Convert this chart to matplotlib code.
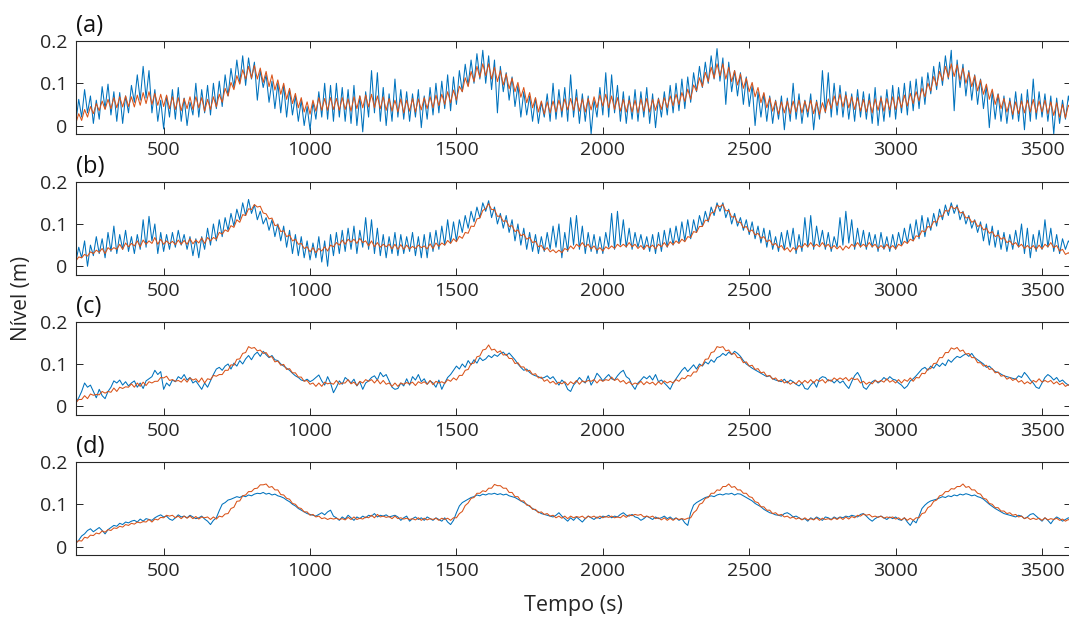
import numpy as np
import matplotlib
matplotlib.use("Agg")
import matplotlib.pyplot as plt

plt.rcParams["font.family"] = ["Open Sans", "DejaVu Sans"]

BLUE = "#0072BD"
ORANGE = "#D95319"
INK = "#262626"

# sample times (s), one value every 10 s from 200 to 3600
tempo = np.arange(200, 3601, 10)

a_blue = [
    8, 62, 20, 85, 30, 70, 5, 60, 15, 92,
    40, 98, 25, 80, 10, 78, 5, 70, 30, 95,
    55, 120, 60, 140, 65, 130, 30, 85, 10, 60,
    -8, 70, 20, 85, 15, 90, 10, 65, 0, 55,
    25, 100, 20, 85, 30, 95, 25, 100, 40, 105,
    45, 120, 70, 135, 90, 155, 100, 165, 95, 160,
    110, 150, 60, 130, 90, 120, 55, 105, 40, 100,
    30, 95, 20, 85, 25, 70, 10, 60, 0, 45,
    -10, 55, 15, 80, 20, 100, 15, 95, 10, 100,
    20, 90, 10, 85, 5, 95, 0, 70, -15, 80,
    20, 130, 30, 125, 10, 90, 0, 75, 10, 110,
    20, 85, 15, 80, 10, 75, 20, 85, -5, 70,
    15, 90, 25, 100, 30, 105, 40, 120, 35, 115,
    50, 130, 80, 145, 95, 155, 100, 170, 110, 178,
    100, 165, 85, 155, 30, 140, 80, 125, 60, 115,
    45, 95, 20, 80, 25, 70, 10, 65, 5, 55,
    20, 75, 10, 100, 15, 85, 20, 90, 10, 120,
    20, 85, 5, 75, 10, 70, -20, 60, 20, 90,
    25, 125, 20, 120, 30, 95, 10, 80, 5, 70,
    15, 85, 10, 80, 20, 90, 5, 75, -5, 65,
    20, 80, 25, 95, 30, 100, 35, 110, 40, 115,
    55, 125, 80, 140, 90, 150, 100, 165, 110, 182,
    105, 160, 50, 150, 80, 130, 70, 125, 50, 115,
    45, 95, 0, 80, 20, 75, 10, 70, 5, 60,
    15, 70, -10, 65, 10, 100, 15, 75, 5, 60,
    20, 75, -10, 60, 15, 130, 30, 125, 20, 100,
    25, 95, 20, 80, 15, 75, 10, 85, 20, 80,
    15, 75, 5, 90, 0, 70, 10, 85, 20, 95,
    15, 90, 30, 100, 25, 105, 35, 110, 40, 115,
    50, 125, 75, 140, 85, 150, 95, 165, 110, 178,
    35, 155, 90, 145, 70, 130, 60, 120, 50, 110,
    40, 95, -5, 80, 15, 75, 10, 70, 5, 65,
    15, 80, 10, 75, -10, 85, 10, 110, 15, 80,
    20, 75, 10, 70, -20, 65, 5, 60, 15, 70,
    30,
]
a_orange = [
    5, 28, 12, 38, 20, 45, 28, 52, 35, 58,
    38, 62, 40, 66, 42, 68, 44, 70, 45, 68,
    44, 72, 48, 78, 52, 80, 50, 76, 48, 74,
    45, 72, 40, 68, 38, 66, 35, 64, 40, 68,
    38, 68, 42, 66, 34, 62, 38, 68, 44, 74,
    55, 88, 70, 102, 85, 118, 98, 132, 110, 140,
    112, 142, 110, 136, 102, 128, 92, 120, 84, 108,
    74, 100, 62, 88, 52, 76, 42, 66, 32, 56,
    27, 60, 34, 66, 36, 64, 36, 66, 38, 64,
    36, 66, 38, 63, 34, 68, 40, 70, 42, 72,
    44, 74, 42, 70, 40, 68, 36, 64, 34, 60,
    32, 63, 30, 60, 34, 64, 32, 63, 37, 66,
    40, 68, 42, 72, 47, 74, 50, 80, 54, 84,
    60, 93, 80, 113, 92, 128, 104, 140, 114, 146,
    118, 146, 110, 138, 104, 130, 96, 122, 87, 112,
    80, 102, 67, 90, 54, 78, 42, 66, 32, 58,
    27, 56, 30, 58, 32, 60, 34, 63, 37, 64,
    36, 66, 34, 63, 32, 64, 37, 68, 42, 72,
    46, 74, 42, 70, 38, 66, 34, 62, 32, 60,
    32, 60, 30, 63, 34, 64, 32, 62, 36, 63,
    38, 66, 42, 70, 47, 74, 50, 78, 57, 86,
    62, 96, 82, 113, 92, 126, 104, 138, 112, 146,
    117, 146, 110, 138, 104, 130, 96, 122, 88, 112,
    80, 102, 68, 90, 54, 78, 42, 66, 34, 58,
    27, 56, 30, 58, 28, 58, 32, 60, 30, 58,
    32, 60, 28, 56, 26, 54, 32, 63, 40, 70,
    47, 74, 44, 72, 42, 68, 38, 66, 34, 62,
    32, 60, 30, 63, 36, 66, 34, 64, 37, 68,
    38, 68, 42, 72, 46, 76, 52, 80, 58, 88,
    68, 100, 82, 116, 94, 128, 106, 140, 114, 146,
    116, 144, 108, 136, 100, 126, 92, 118, 82, 108,
    74, 98, 62, 86, 50, 74, 40, 64, 32, 58,
    26, 56, 28, 58, 30, 60, 32, 62, 30, 58,
    32, 60, 28, 56, 24, 54, 20, 50, 18, 48,
    38,
]

b_blue = [
    10, 45, 20, 60, 0, 50, 25, 70, 30, 65,
    20, 80, 35, 95, 30, 75, 40, 85, 35, 70,
    30, 75, 40, 110, 45, 118, 60, 100, 30, 80,
    35, 75, 40, 80, 45, 85, 50, 75, 40, 70,
    25, 65, 20, 70, 40, 90, 50, 100, 60, 110,
    70, 115, 85, 125, 95, 135, 110, 150, 120, 158,
    125, 145, 110, 130, 100, 115, 85, 110, 70, 100,
    60, 95, 45, 85, 30, 75, 25, 70, 20, 60,
    15, 55, 20, 70, 10, 60, 0, 75, 25, 80,
    30, 85, 35, 90, 40, 95, 30, 85, 45, 115,
    40, 110, 30, 90, 25, 75, 20, 70, 30, 80,
    25, 75, 30, 70, 35, 80, 25, 70, 20, 75,
    20, 80, 35, 85, 40, 95, 50, 110, 55, 105,
    60, 110, 80, 120, 90, 130, 105, 140, 115, 150,
    130, 155, 115, 140, 100, 125, 90, 120, 80, 110,
    60, 100, 50, 90, 40, 80, 35, 75, 30, 70,
    35, 80, 40, 95, 45, 100, 20, 80, 35, 115,
    50, 120, 40, 95, 30, 80, 35, 75, 30, 70,
    30, 80, 45, 125, 40, 130, 50, 110, 45, 90,
    40, 80, 45, 75, 40, 70, 35, 75, 30, 80,
    35, 85, 45, 90, 50, 95, 55, 105, 60, 110,
    65, 110, 80, 120, 95, 130, 105, 140, 120, 150,
    130, 150, 115, 135, 100, 125, 95, 115, 85, 110,
    75, 105, 65, 95, 55, 90, 45, 85, 40, 70,
    35, 80, 40, 85, 45, 90, 30, 75, 35, 115,
    45, 120, 40, 95, 50, 85, 40, 80, 35, 70,
    45, 115, 50, 130, 55, 110, 40, 90, 45, 85,
    40, 80, 45, 75, 35, 80, 40, 70, 35, 75,
    40, 80, 50, 90, 55, 100, 60, 110, 65, 120,
    70, 115, 85, 125, 95, 135, 110, 145, 120, 150,
    125, 145, 110, 130, 100, 120, 90, 110, 80, 105,
    60, 100, 50, 95, 45, 85, 40, 80, 35, 75,
    40, 85, 45, 100, 30, 90, 20, 75, 35, 85,
    40, 110, 45, 90, 35, 75, 30, 65, 40, 60,
    50,
]
b_orange = [
    12, 22, 20, 28, 24, 34, 30, 38, 33, 42,
    30, 44, 38, 44, 40, 52, 40, 55, 46, 54,
    48, 60, 46, 62, 52, 60, 54, 68, 52, 64,
    52, 60, 53, 59, 51, 62, 52, 61, 52, 65,
    53, 62, 55, 67, 54, 68, 60, 68, 64, 80,
    76, 86, 82, 96, 92, 110, 104, 122, 120, 136,
    134, 146, 140, 142, 126, 124, 112, 114, 96, 98,
    82, 84, 70, 74, 60, 64, 52, 54, 42, 46,
    34, 44, 32, 42, 36, 46, 36, 50, 46, 56,
    50, 62, 52, 64, 57, 64, 54, 66, 56, 60,
    48, 60, 46, 56, 45, 52, 46, 52, 41, 52,
    40, 51, 40, 50, 41, 47, 42, 50, 44, 48,
    41, 53, 42, 55, 47, 55, 50, 61, 54, 65,
    58, 71, 66, 80, 78, 95, 94, 112, 114, 132,
    136, 148, 134, 134, 118, 119, 106, 108, 94, 96,
    82, 86, 72, 76, 64, 68, 56, 59, 46, 49,
    38, 44, 34, 39, 32, 38, 32, 42, 38, 48,
    41, 52, 46, 56, 46, 52, 41, 48, 38, 44,
    36, 46, 41, 48, 42, 52, 46, 52, 46, 56,
    46, 52, 42, 49, 40, 50, 44, 50, 41, 52,
    46, 56, 46, 58, 51, 60, 54, 64, 58, 70,
    68, 82, 80, 94, 94, 109, 108, 126, 128, 144,
    141, 146, 131, 132, 116, 118, 104, 104, 91, 94,
    82, 86, 74, 78, 66, 70, 58, 62, 50, 54,
    44, 49, 38, 44, 34, 44, 38, 49, 44, 54,
    46, 56, 46, 52, 46, 56, 46, 52, 42, 49,
    41, 48, 38, 48, 42, 52, 46, 56, 46, 52,
    46, 56, 46, 52, 42, 49, 42, 52, 42, 49,
    41, 52, 48, 59, 54, 64, 60, 72, 70, 84,
    81, 94, 92, 106, 104, 119, 118, 132, 130, 142,
    136, 140, 126, 128, 114, 116, 104, 108, 94, 98,
    86, 90, 78, 82, 70, 74, 64, 68, 56, 60,
    51, 56, 46, 52, 42, 49, 42, 49, 40, 50,
    41, 52, 46, 56, 44, 49, 36, 40, 28, 32,
    25,
]

c_blue = [
    8, 20, 35, 55, 45, 50, 35, 20, 40, 25,
    18, 35, 45, 60, 55, 62, 50, 58, 48, 55,
    60, 45, 55, 42, 60, 65, 70, 85, 75, 82,
    40, 55, 48, 62, 58, 70, 65, 75, 62, 68,
    55, 60, 50, 40, 55, 45, 60, 75, 88, 92,
    85, 95, 100, 88, 102, 95, 108, 100, 112, 120,
    110, 122, 128, 118, 130, 122, 115, 120, 110, 108,
    100, 95, 90, 85, 78, 72, 68, 62, 60, 64,
    58, 62, 68, 74, 60, 50, 70, 55, 32, 45,
    60, 52, 68, 62, 55, 64, 48, 58, 40, 55,
    60, 68, 72, 62, 80, 70, 75, 60, 45, 40,
    42, 55, 48, 65, 50, 70, 62, 75, 58, 65,
    52, 60, 55, 45, 62, 40, 55, 68, 75, 85,
    95, 88, 100, 92, 108, 98, 110, 102, 115, 108,
    112, 120, 115, 122, 118, 125, 128, 120, 126, 118,
    110, 100, 92, 85, 88, 80, 75, 72, 70, 66,
    68, 72, 65, 70, 60, 50, 62, 55, 40, 35,
    50, 58, 68, 60, 55, 72, 50, 62, 78, 70,
    60, 68, 75, 65, 62, 72, 80, 85, 70, 65,
    50, 40, 55, 62, 70, 65, 72, 62, 75, 58,
    62, 55, 48, 40, 55, 65, 75, 85, 92, 82,
    90, 98, 88, 100, 95, 105, 100, 110, 104, 115,
    118, 125, 120, 128, 122, 130, 125, 118, 108, 100,
    95, 90, 86, 82, 78, 74, 70, 72, 65, 62,
    60, 58, 64, 55, 62, 58, 52, 48, 55, 42,
    40, 50, 58, 45, 65, 70, 68, 60, 62, 55,
    62, 55, 60, 50, 42, 58, 72, 80, 68, 45,
    40, 50, 58, 62, 55, 60, 68, 62, 70, 64,
    62, 55, 50, 42, 48, 60, 65, 72, 80, 88,
    92, 85, 95, 90, 100, 94, 102, 96, 110, 104,
    112, 118, 115, 120, 124, 118, 125, 115, 110, 105,
    100, 92, 95, 88, 82, 80, 76, 72, 70, 68,
    66, 64, 72, 68, 80, 72, 62, 55, 45, 42,
    55, 68, 75, 70, 62, 68, 58, 62, 55, 50,
    48,
]
c_orange = [
    8, 16, 16, 25, 18, 29, 26, 28, 27, 35,
    31, 35, 33, 43, 35, 45, 42, 46, 45, 53,
    45, 55, 47, 57, 49, 58, 55, 59, 59, 68,
    67, 71, 61, 63, 59, 61, 57, 65, 57, 67,
    62, 65, 57, 67, 55, 65, 63, 73, 71, 75,
    75, 85, 85, 98, 97, 111, 112, 125, 127, 141,
    137, 139, 131, 133, 125, 127, 117, 117, 105, 107,
    97, 99, 87, 89, 79, 79, 69, 69, 59, 61,
    52, 55, 47, 55, 47, 57, 53, 55, 52, 61,
    52, 55, 55, 63, 53, 57, 49, 59, 55, 63,
    59, 63, 55, 63, 53, 61, 52, 55, 47, 55,
    47, 55, 52, 56, 53, 57, 49, 58, 54, 58,
    52, 61, 51, 59, 55, 58, 54, 63, 59, 67,
    62, 73, 73, 85, 87, 101, 102, 117, 119, 133,
    135, 145, 133, 135, 127, 131, 121, 123, 113, 113,
    101, 103, 93, 93, 83, 85, 75, 77, 67, 69,
    59, 63, 55, 59, 52, 57, 53, 58, 50, 58,
    53, 61, 52, 60, 57, 61, 59, 63, 55, 63,
    59, 63, 61, 69, 61, 65, 57, 61, 53, 58,
    51, 55, 52, 59, 51, 58, 53, 57, 50, 58,
    52, 60, 55, 59, 55, 63, 59, 67, 65, 73,
    71, 81, 81, 95, 97, 111, 112, 127, 129, 141,
    139, 141, 131, 133, 123, 125, 115, 115, 103, 105,
    95, 97, 87, 89, 79, 81, 71, 73, 64, 67,
    59, 63, 55, 59, 52, 57, 53, 61, 54, 61,
    55, 63, 55, 63, 59, 63, 55, 63, 59, 67,
    62, 67, 63, 68, 60, 67, 63, 65, 55, 59,
    52, 57, 53, 61, 57, 61, 57, 65, 57, 61,
    55, 63, 55, 63, 59, 67, 59, 68, 67, 78,
    77, 88, 89, 101, 102, 115, 115, 127, 127, 138,
    135, 139, 130, 133, 123, 125, 115, 115, 103, 103,
    95, 97, 87, 89, 79, 81, 71, 73, 64, 68,
    61, 65, 57, 61, 53, 58, 53, 61, 57, 65,
    57, 61, 57, 61, 53, 58, 51, 55, 47, 51,
    46,
]

d_blue = [
    8, 15, 25, 30, 38, 42, 35, 40, 45, 38,
    30, 40, 45, 50, 48, 55, 52, 58, 56, 60,
    62, 58, 65, 60, 66, 64, 62, 68, 72, 75,
    70, 72, 65, 62, 68, 75, 70, 72, 68, 74,
    70, 66, 68, 72, 65, 60, 52, 62, 68, 85,
    100, 104, 110, 112, 115, 118, 116, 120, 118, 122,
    120, 124, 126, 125, 128, 124, 126, 122, 124, 120,
    118, 115, 110, 106, 100, 96, 90, 86, 82, 78,
    76, 74, 72, 76, 80, 75, 82, 86, 72, 68,
    62, 70, 65, 74, 68, 62, 70, 66, 72, 68,
    74, 72, 78, 70, 74, 72, 75, 70, 72, 74,
    70, 62, 68, 72, 60, 66, 70, 64, 68, 62,
    70, 66, 62, 68, 64, 60, 68, 58, 52, 62,
    80, 96, 104, 108, 112, 116, 118, 122, 120, 124,
    122, 125, 124, 126, 123, 125, 122, 124, 120, 118,
    116, 112, 108, 104, 100, 95, 90, 86, 82, 78,
    76, 74, 72, 70, 74, 80, 72, 66, 60, 68,
    62, 70, 64, 58, 66, 72, 68, 64, 70, 66,
    72, 70, 74, 68, 72, 70, 76, 80, 74, 72,
    76, 70, 68, 62, 66, 72, 68, 64, 70, 66,
    68, 72, 66, 70, 64, 68, 62, 66, 56, 50,
    80, 98, 104, 108, 112, 116, 118, 120, 118, 122,
    124, 122, 125, 124, 126, 122, 125, 124, 120, 116,
    112, 108, 102, 98, 94, 88, 84, 80, 78, 75,
    74, 72, 78, 80, 76, 70, 72, 68, 64, 66,
    60, 68, 64, 70, 66, 62, 70, 68, 64, 70,
    66, 70, 68, 72, 70, 74, 72, 70, 76, 78,
    72, 65, 60, 66, 70, 72, 68, 64, 70, 66,
    70, 64, 62, 68, 58, 50, 62, 56, 72, 90,
    98, 104, 108, 110, 112, 115, 118, 116, 120, 118,
    122, 120, 124, 122, 125, 123, 120, 122, 118, 116,
    112, 106, 100, 95, 90, 86, 82, 78, 76, 74,
    72, 70, 74, 72, 66, 70, 76, 78, 72, 66,
    60, 68, 62, 54, 64, 70, 66, 60, 64, 68,
    66,
]
d_orange = [
    8, 14, 13, 22, 20, 27, 26, 32, 30, 37,
    34, 40, 38, 44, 43, 48, 46, 52, 50, 55,
    53, 58, 56, 59, 58, 64, 58, 65, 63, 69,
    68, 74, 72, 74, 68, 72, 66, 72, 67, 72,
    66, 71, 65, 70, 68, 70, 64, 70, 65, 72,
    70, 77, 78, 90, 93, 107, 108, 120, 122, 130,
    130, 137, 138, 146, 146, 148, 140, 142, 134, 134,
    123, 122, 114, 112, 102, 100, 92, 90, 82, 82,
    74, 76, 70, 72, 66, 68, 64, 67, 65, 67,
    64, 66, 63, 69, 64, 70, 64, 67, 65, 70,
    68, 74, 68, 76, 70, 72, 69, 71, 66, 72,
    66, 68, 65, 67, 64, 66, 63, 68, 62, 67,
    63, 66, 64, 67, 62, 67, 64, 67, 62, 68,
    68, 78, 83, 97, 103, 114, 116, 126, 126, 132,
    130, 138, 138, 147, 144, 144, 138, 138, 128, 128,
    118, 118, 108, 108, 98, 97, 88, 88, 80, 82,
    76, 78, 72, 74, 68, 72, 67, 72, 66, 72,
    68, 71, 69, 72, 66, 72, 69, 72, 67, 72,
    68, 71, 69, 72, 68, 70, 68, 74, 69, 75,
    73, 76, 74, 76, 70, 72, 69, 72, 66, 68,
    63, 68, 62, 67, 62, 67, 64, 66, 64, 67,
    68, 80, 86, 100, 103, 114, 116, 126, 126, 134,
    133, 142, 142, 148, 140, 142, 134, 134, 126, 126,
    118, 116, 106, 104, 94, 94, 86, 86, 78, 80,
    74, 76, 70, 72, 67, 70, 65, 68, 63, 68,
    63, 66, 63, 68, 62, 67, 64, 66, 63, 68,
    64, 69, 64, 70, 65, 71, 68, 74, 72, 77,
    74, 76, 70, 72, 69, 72, 67, 70, 68, 70,
    65, 68, 63, 68, 62, 67, 62, 68, 68, 78,
    80, 92, 96, 107, 110, 120, 122, 130, 130, 137,
    136, 142, 142, 148, 140, 142, 134, 134, 126, 124,
    114, 112, 102, 100, 92, 92, 84, 84, 78, 80,
    74, 76, 70, 72, 66, 69, 64, 67, 64, 67,
    62, 68, 63, 66, 64, 67, 62, 65, 60, 64,
    60,
]

panel_labels = ["(a)", "(b)", "(c)", "(d)"]
blue_series = [a_blue, b_blue, c_blue, d_blue]
orange_series = [a_orange, b_orange, c_orange, d_orange]
x_ticks = [500, 1000, 1500, 2000, 2500, 3000, 3500]
y_ticks = [0, 0.1, 0.2]
y_ticklabels = ["0", "0.1", "0.2"]

# ── Canvas ────────────────────────────────────────────────────────────────────
W, H = 1069, 617
fig = plt.figure(figsize=(W / 100, H / 100), dpi=100)
fig.patch.set_facecolor("white")

ax_left = 75.8 / W
ax_width = 995.5 / W
ax_height = 93 / H
tops = [41, 181.7, 321.7, 462]   # pixel rows of the upper spines

for top, lab, yb, yo in zip(tops, panel_labels, blue_series, orange_series):
    ax = fig.add_axes([ax_left, 1 - (top + 93) / H, ax_width, ax_height])
    ax.plot(tempo, np.array(yb) / 1000, color=BLUE, lw=0.75)
    ax.plot(tempo, np.array(yo) / 1000, color=ORANGE, lw=0.75)
    ax.set_xlim(200, 3600)
    ax.set_ylim(-0.02, 0.2)
    ax.set_xticks(x_ticks)
    ax.set_xticklabels([str(v) for v in x_ticks])
    ax.set_yticks(y_ticks)
    ax.set_yticklabels(y_ticklabels)
    ax.tick_params(direction="in", top=True, right=True, length=5, width=0.7,
                   color=INK, labelcolor=INK, labelsize=14)
    ax.tick_params(axis="x", pad=5)
    ax.tick_params(axis="y", pad=6)
    for sp in ax.spines.values():
        sp.set_color(INK)
        sp.set_linewidth(0.8)
    ax.text(0.0, 1.0 + 9 / 93, lab, transform=ax.transAxes, ha="left",
            va="baseline", fontsize=17, color="#111111")

fig.text(22 / W, 1 - 298 / H, "Nível (m)", rotation=90, ha="center",
         va="center", fontsize=15, color=INK)
fig.text(573 / W, 1 - 605 / H, "Tempo (s)", ha="center", va="center",
         fontsize=15.5, color=INK)

fig.savefig("out.png", dpi=100, facecolor="white")
plt.close(fig)
